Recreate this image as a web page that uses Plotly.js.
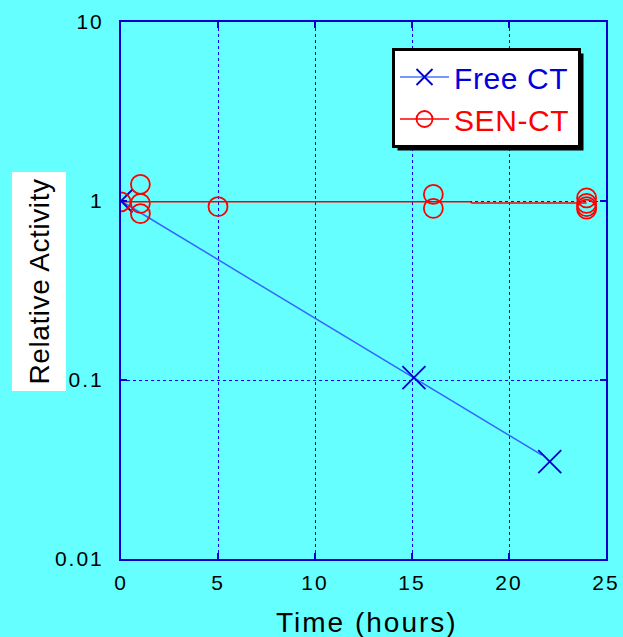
<!DOCTYPE html>
<html>
<head>
<meta charset="utf-8">
<script src="https://cdn.plot.ly/plotly-3.0.1.min.js"></script>
<style>
html,body{margin:0;padding:0;background:#66ffff;}
#chart{width:623px;height:637px;}
#chart .xtick text, #chart .ytick text{letter-spacing:2px;}
#chart .legendtext{letter-spacing:0.6px;}
#chart .annotation-text{letter-spacing:0.6px;}
</style>
</head>
<body>
<div id="chart"></div>
<script>
// Free CT measured points
var freeX = [0, 15.1, 22.1];
var freeY = [1, 0.103, 0.035];
// Free CT fitted line (end points)
var freeFitX = [0, 21.7];
var freeFitY = [1, 0.038];
// SEN-CT measured points
var senX = [0, 1, 1, 1, 5, 16.1, 16.1, 24, 24, 24, 24];
var senY = [0.99, 1.24, 0.97, 0.85, 0.93, 1.09, 0.91, 1.04, 0.97, 0.93, 0.90];
// SEN-CT fitted line
var senFitX = [0, 18, 18.1, 24];
var senFitY = [0.99, 0.99, 0.975, 0.975];
// axis ticks
var xTicks = [0, 5, 10, 15, 20, 25];
var yTicks = [0.01, 0.1, 1, 10];
var yTickText = ['0.01', '0.1', '1', '10'];

function gapped(a) { var o = []; a.forEach(function (v, i) { if (i) o.push(null); o.push(v); }); return o; }

var traces = [
  {x: freeFitX, y: freeFitY, mode: 'lines', line: {color: '#3366ff', width: 1.5}, showlegend: false, hoverinfo: 'skip'},
  {x: senFitX, y: senFitY, mode: 'lines', line: {color: '#ff0000', width: 1.5}, showlegend: false, hoverinfo: 'skip'},
  {x: gapped(freeX), y: gapped(freeY), mode: 'lines+markers', connectgaps: false, legendgroup: 'a',
   name: '<span style="color:#0000dd">Free CT&nbsp;</span>',
   line: {color: '#7799ff', width: 2},
   marker: {symbol: 'x-thin-open', size: 23, color: '#0000cc', line: {width: 1.8, color: '#0000cc'}}},
  {x: gapped(senX), y: gapped(senY), mode: 'lines+markers', connectgaps: false, legendgroup: 'b',
   name: '<span style="color:#ff0000">SEN-CT</span>',
   line: {color: '#ff0000', width: 1.5},
   marker: {symbol: 'circle-open', size: 19, color: '#ff0000', line: {width: 1.8, color: '#ff0000'}}}
];

var L = 121, R = 17, T = 22, B = 78, W = 623 - L - R, H = 637 - T - B;
function px(x) { return (x - L) / W; }
function py(y) { return (637 - B - y) / H; }

var layout = {
  width: 623, height: 637,
  paper_bgcolor: '#66ffff', plot_bgcolor: '#66ffff',
  margin: {l: L, r: R, t: T, b: B},
  font: {family: 'Liberation Sans, Arial, sans-serif', color: '#000000', size: 21},
  showlegend: true,
  legend: {
    x: px(392), y: py(48), xanchor: 'left', yanchor: 'top',
    bgcolor: '#ffffff', bordercolor: '#000000', borderwidth: 3,
    font: {size: 30, family: 'Liberation Sans, Arial, sans-serif'},
    traceorder: 'grouped', tracegroupgap: 0, itemwidth: 49
  },
  xaxis: {
    range: [0, 25], tickvals: xTicks, ticktext: xTicks.map(String),
    showgrid: true, gridcolor: '#0000ff', griddash: 'dot', gridwidth: 1,
    showline: true, linecolor: '#0000cc', linewidth: 2, mirror: 'ticks',
    ticks: 'inside', ticklen: 6, tickcolor: '#0000cc', tickwidth: 1.5,
    zeroline: false, tickfont: {size: 21}, ticklabelstandoff: 4
  },
  yaxis: {
    type: 'log', range: [-2, 1], tickvals: yTicks, ticktext: yTickText,
    showgrid: true, gridcolor: '#0000ff', griddash: 'dot', gridwidth: 1,
    showline: true, linecolor: '#0000cc', linewidth: 2, mirror: 'ticks',
    ticks: 'inside', ticklen: 6, tickcolor: '#0000cc', tickwidth: 1.5,
    zeroline: false, tickfont: {size: 21}, ticklabelstandoff: 11
  },
  shapes: [],
  annotations: [
    {text: 'Relative Activity', textangle: -90, xref: 'paper', yref: 'paper',
     x: px(38.5), y: py(282), xanchor: 'center', yanchor: 'middle', showarrow: false,
     bgcolor: '#ffffff', borderpad: 11, font: {size: 28, color: '#000000'}},
    {text: '<span style="letter-spacing:2px">Time (hours)</span>', xref: 'paper', yref: 'paper',
     x: px(367), y: py(639), xanchor: 'center', yanchor: 'bottom', showarrow: false,
     borderpad: 0, font: {size: 28, color: '#000000'}}
  ]
};

Plotly.newPlot('chart', traces, layout, {displayModeBar: false, staticPlot: true}).then(function (gd) {
  // drop shadow behind legend box, sized from the drawn legend
  var bg = gd.querySelector('.legend .bg');
  var svg = gd.querySelector('.main-svg').getBoundingClientRect();
  var b = bg.getBoundingClientRect();
  var off = 4;
  return Plotly.relayout(gd, {shapes: [{
    type: 'rect', xref: 'paper', yref: 'paper',
    x0: px(b.left - svg.left + off), x1: px(b.right - svg.left + off),
    y0: py(b.bottom - svg.top + off), y1: py(b.top - svg.top + off),
    fillcolor: '#000000', line: {width: 0}, layer: 'above'}]});
});
</script>
</body>
</html>
